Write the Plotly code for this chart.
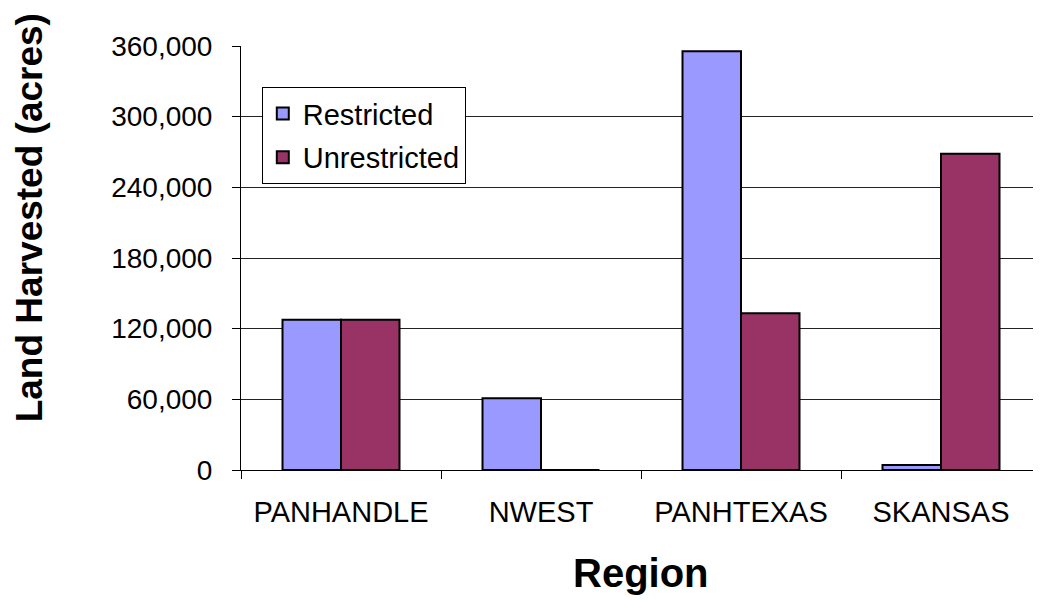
import plotly.graph_objects as go

# data
regions = ["PANHANDLE", "NWEST", "PANHTEXAS", "SKANSAS"]
restricted = [127500, 61000, 355500, 4200]
unrestricted = [127500, 0, 133000, 268500]

FONT = "Liberation Sans, Arial, sans-serif"

fig = go.Figure()
fig.add_trace(go.Bar(x=regions, y=restricted, name="Restricted",
                     marker=dict(color="#9999FF", line=dict(color="black", width=2)),
                     legendgroup="a"))
fig.add_trace(go.Bar(x=regions, y=unrestricted, name="Unrestricted",
                     marker=dict(color="#993366", line=dict(color="black", width=2)),
                     legendgroup="b"))

# page has an 8px body margin, so the figure is a little smaller
fig.update_layout(
    width=1033, height=592,
    margin=dict(l=233, r=0, t=38, b=130),
    plot_bgcolor="white", paper_bgcolor="white",
    font=dict(family=FONT, color="black", size=28),
    barmode="group", bargap=0.415, bargroupgap=0,
    showlegend=True,
    legend=dict(x=0.026, y=0.903, xanchor="left", yanchor="top",
                bgcolor="white", bordercolor="black", borderwidth=1,
                font=dict(size=29), traceorder="grouped", tracegroupgap=3),
)
fig.update_xaxes(
    showline=True, linecolor="black", linewidth=1,
    ticks="outside", tickson="boundaries", ticklen=8, tickcolor="black",
    tickfont=dict(size=29), ticklabelstandoff=16,
)
fig.update_yaxes(
    range=[0, 360000], dtick=60000, tickformat=",",
    showline=True, linecolor="black", linewidth=1,
    ticks="outside", ticklen=8, tickcolor="black",
    showgrid=True, gridcolor="#222", gridwidth=1, zeroline=False,
    tickfont=dict(size=28), ticklabelstandoff=14,
)
fig.add_annotation(text="<b>Land Harvested (acres)</b>", textangle=-90,
                   xref="paper", yref="paper", x=-0.264, y=0.5955,
                   xanchor="center", yanchor="middle", showarrow=False,
                   font=dict(size=37))
fig.add_annotation(text="<b>Region</b>",
                   xref="paper", yref="paper", x=0.5, y=-0.243,
                   xanchor="center", yanchor="middle", showarrow=False,
                   font=dict(size=40))

fig.write_html("out.html")
